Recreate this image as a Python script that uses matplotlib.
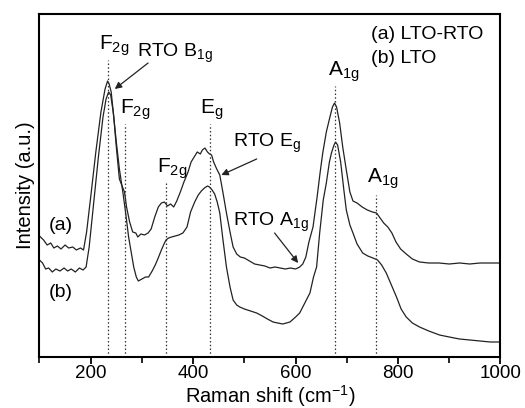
import matplotlib
matplotlib.use("Agg")
import matplotlib.pyplot as plt
from matplotlib.ticker import MultipleLocator

plt.rcParams['font.family'] = ['Liberation Sans', 'DejaVu Sans']
plt.rcParams['mathtext.fontset'] = 'custom'
plt.rcParams['mathtext.rm'] = 'Liberation Sans'
plt.rcParams['mathtext.default'] = 'regular'

# curve (a) LTO-RTO
xa = [100, 108, 115, 122, 128, 135, 142, 150, 157, 165, 172, 180, 186, 192, 200, 210, 220, 228, 233, 236,
      240, 245, 250, 256, 262, 266, 270, 276, 282, 288, 292, 298, 305, 312, 318, 325, 332, 338, 344, 350,
      356, 362, 368, 375, 382, 390, 396, 402, 408, 414, 418, 423, 428, 432, 436, 440, 446, 452, 458, 465,
      472, 478, 485, 492, 500, 510, 520, 530, 540, 550, 560, 570, 580, 590, 600, 608, 614, 620, 626, 634,
      642, 648, 653, 660, 667, 672, 676, 680, 686, 692, 699, 706, 712, 720, 730, 740, 750, 758, 765, 772,
      780, 788, 796, 805, 816, 828, 842, 860, 880, 900, 920, 940, 960, 980, 1000]
ya = [121, 117, 112, 114, 109, 111, 108, 112, 109, 110, 107, 109, 107, 125, 160, 205, 245, 268, 276, 273,
      265, 240, 210, 178, 170, 165, 150, 135, 125, 124, 120, 123, 122, 124, 128, 140, 150, 154, 155, 151,
      153, 150, 156, 165, 175, 185, 195, 200, 205, 203, 207, 209, 205, 203, 202, 195, 188, 182, 165, 144,
      125, 110, 103, 100, 99, 96, 93, 92, 91, 89, 90, 89, 88, 89, 88, 90, 93, 100, 115, 130,
      160, 185, 204, 225, 240, 250, 254, 250, 234, 210, 187, 165, 156, 154, 150, 147, 145, 144, 139, 134,
      130, 124, 115, 108, 103, 98, 95, 94, 94, 93, 94, 93, 94, 94, 94]

# curve (b) LTO
xb = [100, 106, 112, 118, 125, 132, 140, 148, 155, 162, 170, 178, 185, 191, 197, 205, 215, 224, 230, 235,
      239, 244, 250, 256, 263, 268, 274, 279, 284, 289, 293, 300, 307, 313, 320, 326, 331, 338, 344, 347,
      352, 358, 365, 372, 380, 388, 395, 403, 410, 416, 422, 428, 432, 437, 442, 447, 452, 458, 465, 472,
      478, 485, 491, 500, 512, 524, 535, 545, 556, 565, 575, 589, 600, 608, 618, 628, 635, 641, 647, 654,
      660, 666, 670, 675, 678, 682, 688, 694, 699, 706, 712, 720, 731, 741, 751, 760, 768, 777, 787, 797,
      806, 816, 828, 842, 860, 881, 900, 920, 940, 960, 980, 1000]
yb = [97, 94, 88, 89, 85, 88, 86, 89, 86, 88, 85, 89, 87, 90, 110, 150, 200, 240, 258, 265,
      262, 245, 215, 188, 164, 145, 120, 105, 90, 80, 76, 78, 80, 80, 86, 92, 98, 107, 114, 117,
      119, 120, 121, 122, 124, 130, 145, 155, 162, 166, 169, 171, 170, 167, 163, 155, 144, 118, 90, 70,
      57, 52, 50, 48, 46, 44, 41, 38, 35, 34, 33, 35, 40, 44, 54, 64, 80, 90, 124, 157,
      174, 195, 204, 212, 215, 212, 195, 168, 147, 132, 124, 113, 104, 101, 99, 97, 92, 84, 72, 60,
      48, 40, 34, 30, 26, 22, 20, 18, 17, 16, 15, 15]

# band positions and heights of the dotted markers
band_x = [234, 267, 347, 432, 676, 757]
band_top = [297, 233, 174, 233, 271, 162]

fig = plt.figure(figsize=(5.25, 4.08), dpi=100)
ax = fig.add_axes([0.0752, 0.125, 0.8781, 0.8407])

ax.plot(xa, ya, color='#222222', lw=0.9)
ax.plot(xb, yb, color='#222222', lw=0.9)
for bx, bt in zip(band_x, band_top):
    ax.plot([bx, bx], [0, bt], color='#333333', lw=0.9, ls=(0, (1.2, 1.8)))

ax.set_xlim(100, 1000)
ax.set_ylim(0, 343)
ax.set_yticks([])
ax.xaxis.set_major_locator(MultipleLocator(200))
ax.xaxis.set_minor_locator(MultipleLocator(100))
ax.tick_params(axis='x', which='major', direction='out', length=5, width=1.3, labelsize=13.5, pad=1)
ax.tick_params(axis='x', which='minor', direction='out', length=4, width=1.2)
for s in ax.spines.values():
    s.set_linewidth(1.5)

fs = 15
ax.text(217, 307, r'F$_{2g}$', fontsize=fs)
ax.text(257, 243, r'F$_{2g}$', fontsize=fs)
ax.text(329, 184, r'F$_{2g}$', fontsize=fs)
ax.text(413, 243, r'E$_{g}$', fontsize=fs)
ax.text(663, 281, r'A$_{1g}$', fontsize=fs)
ax.text(740, 174, r'A$_{1g}$', fontsize=fs)
ax.text(290, 300, r'RTO B$_{1g}$', fontsize=14)
ax.text(478, 210, r'RTO E$_{g}$', fontsize=14)
ax.text(478, 131, r'RTO A$_{1g}$', fontsize=14)
ax.text(748, 318, '(a) LTO-RTO', fontsize=14)
ax.text(748, 294, '(b) LTO', fontsize=14)
ax.text(119, 127, '(a)', fontsize=14)
ax.text(119, 60, '(b)', fontsize=14)

arrow = dict(arrowstyle='-|>', color='#222222', lw=0.9, mutation_scale=10, shrinkA=0, shrinkB=0)
ax.annotate('', xy=(247, 268), xytext=(312, 294), arrowprops=arrow)
ax.annotate('', xy=(455, 182), xytext=(524, 198), arrowprops=arrow)
ax.annotate('', xy=(605, 94), xytext=(559, 124), arrowprops=arrow)

ax.set_xlabel(r'Raman shift (cm$^{-1}$)', fontsize=14.5, labelpad=0.5)
ax.set_ylabel('Intensity (a.u.)', fontsize=14.5, labelpad=3)

fig.savefig('out.png', dpi=100)
